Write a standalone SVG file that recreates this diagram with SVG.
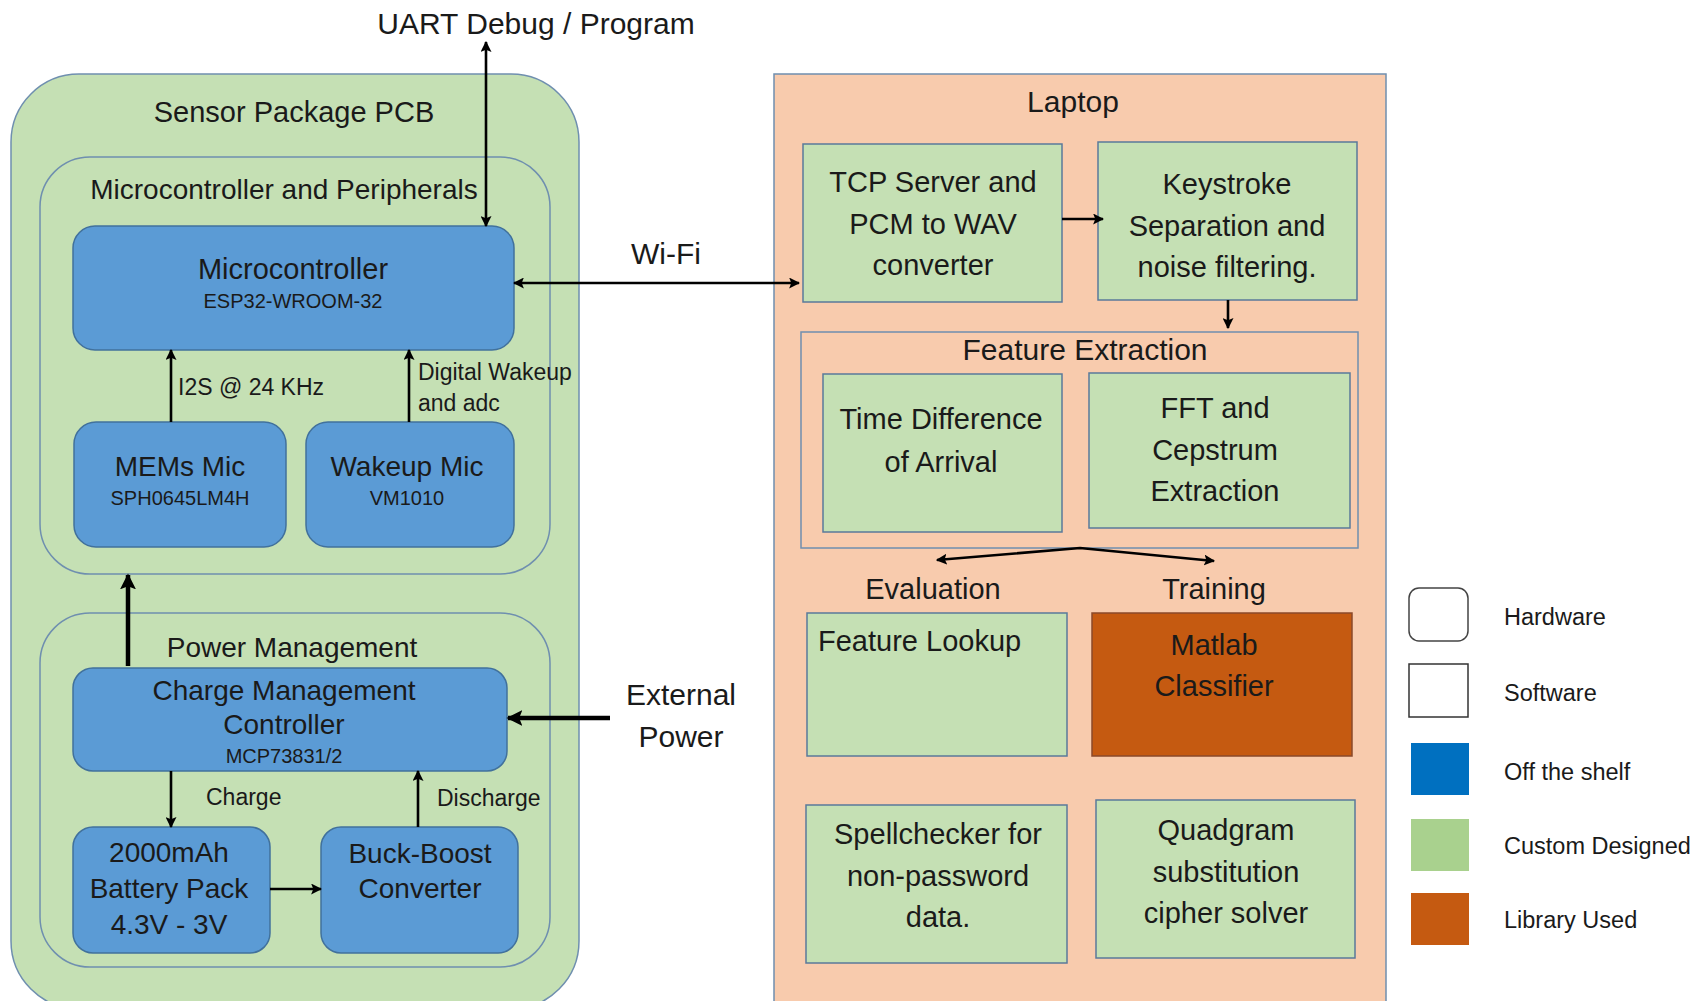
<svg xmlns="http://www.w3.org/2000/svg" width="1698" height="1001" viewBox="0 0 1698 1001">
<defs>
<style>
text{font-family:"Liberation Sans",Arial,sans-serif;fill:#1a1a1a;text-anchor:middle}
.t28{font-size:28px}
.t29{font-size:29px}
.t30{font-size:30px}
.t20{font-size:20px}
.t23{font-size:23px}
.lg{font-size:23.5px;text-anchor:start}
.pcb{fill:#C5E0B4;stroke:#6F8FAF;stroke-width:1.5}
.grp{fill:#C5E0B4;stroke:#6F8FAF;stroke-width:1.5}
.hw{fill:#5B9BD5;stroke:#41719C;stroke-width:1.5}
.sw{fill:#C5E0B4;stroke:#5A7A9A;stroke-width:1.5}
.lap{fill:#F8CBAD;stroke:#6F8FAF;stroke-width:1.5}
.lib{fill:#C55A11;stroke:#8A4A2A;stroke-width:1.5}
.ln{fill:none;stroke:#000;stroke-width:2.6}
.thick{fill:none;stroke:#000;stroke-width:4.5}
</style>
<marker id="ah" viewBox="0 0 10 10" refX="9" refY="5" markerWidth="11" markerHeight="11" markerUnits="userSpaceOnUse" orient="auto-start-reverse">
<path d="M0,0 L10,5 L0,10 L2,5 z" fill="#000"/>
</marker>
<marker id="ahb" viewBox="0 0 10 10" refX="9" refY="5" markerWidth="16" markerHeight="16" markerUnits="userSpaceOnUse" orient="auto-start-reverse">
<path d="M0,0 L10,5 L0,10 L2,5 z" fill="#000"/>
</marker>
</defs>
<rect width="1698" height="1001" fill="#fff"/>

<g id="sensor-pcb">
<rect class="pcb" x="11" y="74" width="568" height="935" rx="68"/>
<text class="t29" x="294" y="122">Sensor Package PCB</text>
</g>

<g id="mcu-group">
<rect class="grp" x="40" y="157" width="510" height="417" rx="50"/>
<text class="t28" x="284" y="199">Microcontroller and Peripherals</text>
</g>

<g id="microcontroller">
<rect class="hw" x="73" y="226" width="441" height="124" rx="22"/>
<text class="t29" x="293" y="279">Microcontroller</text>
<text class="t20" x="293" y="308">ESP32-WROOM-32</text>
</g>

<g id="mems-mic">
<rect class="hw" x="74" y="422" width="212" height="125" rx="22"/>
<text class="t28" x="180" y="476">MEMs Mic</text>
<text class="t20" x="180" y="505">SPH0645LM4H</text>
</g>

<g id="wakeup-mic">
<rect class="hw" x="306" y="422" width="208" height="125" rx="22"/>
<text class="t28" x="407" y="476">Wakeup Mic</text>
<text class="t20" x="407" y="505">VM1010</text>
</g>

<g id="power-group">
<rect class="grp" x="40" y="613" width="510" height="354" rx="50"/>
<text class="t28" x="292" y="657">Power Management</text>
</g>

<g id="charge-controller">
<rect class="hw" x="73" y="668" width="434" height="103" rx="20"/>
<text class="t28" x="284" y="700">Charge Management</text>
<text class="t28" x="284" y="734">Controller</text>
<text class="t20" x="284" y="763">MCP73831/2</text>
</g>

<g id="battery">
<rect class="hw" x="73" y="827" width="197" height="126" rx="20"/>
<text class="t28" x="169" y="862">2000mAh</text>
<text class="t28" x="169" y="898">Battery Pack</text>
<text class="t28" x="169" y="934">4.3V - 3V</text>
</g>

<g id="buck-boost">
<rect class="hw" x="321" y="827" width="197" height="126" rx="20"/>
<text class="t28" x="420" y="863">Buck-Boost</text>
<text class="t28" x="420" y="898">Converter</text>
</g>

<g id="laptop">
<rect class="lap" x="774" y="74" width="612" height="935"/>
<text class="t30" x="1073" y="112">Laptop</text>
</g>

<g id="tcp-server">
<rect class="sw" x="803" y="144" width="259" height="158"/>
<text class="t29" x="933" y="192">TCP Server and</text>
<text class="t29" x="933" y="234">PCM to WAV</text>
<text class="t29" x="933" y="275">converter</text>
</g>

<g id="keystroke">
<rect class="sw" x="1098" y="142" width="259" height="158"/>
<text class="t29" x="1227" y="194">Keystroke</text>
<text class="t29" x="1227" y="236">Separation and</text>
<text class="t29" x="1227" y="277">noise filtering.</text>
</g>

<g id="feature-extraction">
<rect class="lap" x="801" y="332" width="557" height="216"/>
<text class="t30" x="1085" y="360">Feature Extraction</text>
</g>

<g id="tdoa">
<rect class="sw" x="823" y="374" width="239" height="158"/>
<text class="t29" x="941" y="429">Time Difference</text>
<text class="t29" x="941" y="472">of Arrival</text>
</g>

<g id="fft">
<rect class="sw" x="1089" y="373" width="261" height="155"/>
<text class="t29" x="1215" y="418">FFT and</text>
<text class="t29" x="1215" y="460">Cepstrum</text>
<text class="t29" x="1215" y="501">Extraction</text>
</g>

<g id="evaluation-label">
<text class="t29" x="933" y="599">Evaluation</text>
</g>
<g id="training-label">
<text class="t29" x="1214" y="599">Training</text>
</g>

<g id="feature-lookup">
<rect class="sw" x="807" y="613" width="260" height="143"/>
<text class="t29" x="818" y="651" style="text-anchor:start">Feature Lookup</text>
</g>

<g id="matlab-classifier">
<rect class="lib" x="1092" y="613" width="260" height="143"/>
<text class="t29" x="1214" y="655">Matlab</text>
<text class="t29" x="1214" y="696">Classifier</text>
</g>

<g id="spellchecker">
<rect class="sw" x="806" y="805" width="261" height="158"/>
<text class="t29" x="938" y="844">Spellchecker for</text>
<text class="t29" x="938" y="886">non-password</text>
<text class="t29" x="938" y="927">data.</text>
</g>

<g id="quadgram">
<rect class="sw" x="1096" y="800" width="259" height="158"/>
<text class="t29" x="1226" y="840">Quadgram</text>
<text class="t29" x="1226" y="882">substitution</text>
<text class="t29" x="1226" y="923">cipher solver</text>
</g>

<g id="external-labels">
<text class="t30" x="536" y="34">UART Debug / Program</text>
<text class="t30" x="666" y="264">Wi-Fi</text>
<text class="t30" x="681" y="705">External</text>
<text class="t30" x="681" y="747">Power</text>
</g>

<g id="connectors">
<line class="ln" x1="486" y1="42" x2="486" y2="226" marker-start="url(#ah)" marker-end="url(#ah)"/>
<line class="ln" x1="514" y1="283" x2="799" y2="283" marker-start="url(#ah)" marker-end="url(#ah)"/>
<line class="ln" x1="171" y1="422" x2="171" y2="350" marker-end="url(#ah)"/>
<line class="ln" x1="409" y1="422" x2="409" y2="350" marker-end="url(#ah)"/>
<line class="thick" x1="128" y1="666" x2="128" y2="575" marker-end="url(#ahb)"/>
<line class="thick" x1="610" y1="718" x2="508" y2="718" marker-end="url(#ahb)"/>
<line class="ln" x1="171" y1="771" x2="171" y2="827" marker-end="url(#ah)"/>
<line class="ln" x1="418" y1="827" x2="418" y2="771" marker-end="url(#ah)"/>
<line class="ln" x1="270" y1="889" x2="321" y2="889" marker-end="url(#ah)"/>
<line class="ln" x1="1062" y1="219" x2="1103" y2="219" marker-end="url(#ah)"/>
<line class="ln" x1="1228" y1="300" x2="1228" y2="328" marker-end="url(#ah)"/>
<polyline class="ln" points="937,560 1080,548 1214,561" marker-start="url(#ah)" marker-end="url(#ah)"/>
<text class="t23" x="178" y="395" style="text-anchor:start">I2S @ 24 KHz</text>
<text class="t23" x="418" y="380" style="text-anchor:start">Digital Wakeup</text>
<text class="t23" x="418" y="411" style="text-anchor:start">and adc</text>
<text class="t23" x="206" y="805" style="text-anchor:start">Charge</text>
<text class="t23" x="437" y="806" style="text-anchor:start">Discharge</text>
</g>

<g id="legend">
<rect x="1409" y="588" width="59" height="53" rx="10" fill="#fff" stroke="#444" stroke-width="1.5"/>
<text class="lg" x="1504" y="625">Hardware</text>
<rect x="1409" y="664" width="59" height="53" fill="#fff" stroke="#333" stroke-width="1.5"/>
<text class="lg" x="1504" y="701">Software</text>
<rect x="1411" y="743" width="58" height="52" fill="#0070C0"/>
<text class="lg" x="1504" y="780">Off the shelf</text>
<rect x="1411" y="819" width="58" height="52" fill="#A9D18E"/>
<text class="lg" x="1504" y="854">Custom Designed</text>
<rect x="1411" y="893" width="58" height="52" fill="#C55A11"/>
<text class="lg" x="1504" y="928">Library Used</text>
</g>
</svg>
